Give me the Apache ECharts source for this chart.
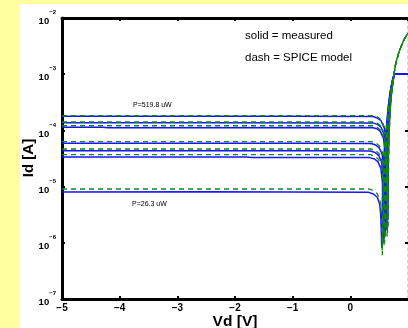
<!DOCTYPE html>
<html>
<head>
<meta charset="utf-8">
<script src="https://cdn.jsdelivr.net/npm/echarts@6/dist/echarts.min.js"></script>
<style>
  html, body { margin: 0; padding: 0; background: #ffffa0; }
  #paper { position: absolute; left: 20px; top: 4px; width: 388px; height: 324px; background: #fff; }
  #chart { position: absolute; left: 0; top: 0; width: 408px; height: 328px; }
</style>
</head>
<body>
<div id="paper"></div>
<div id="chart"></div>
<script>
// axis ranges / ticks
const vdTicks = [-5, -4, -3, -2, -1, 0, 1]
const idDecades = [1e-7, 1e-6, 1e-5, 1e-4, 1e-3, 1e-2]

// measured curves (solid blue), [Vd, |Id|]
const measuredTail = [[0.76, 1e-3], [1.0, 1e-3]]
const measured1 = [[-5, 1.78e-4], [-3, 1.79e-4], [-1, 1.78e-4], [0.39, 1.77e-4], [0.47, 1.66e-4], [0.53, 1.5e-4], [0.59, 1.1e-4], [0.625, 6e-5], [0.642, 2e-5], [0.652, 2.5e-6], [0.66, 3e-5], [0.675, 1.1e-4], [0.69, 2.4e-4], [0.71, 4.2e-4], [0.735, 6.8e-4]]
const measured2 = [[-5, 1.37e-4], [-2.5, 1.37e-4], [0.39, 1.36e-4], [0.47, 1.28e-4], [0.53, 1.15e-4], [0.585, 8.5e-5], [0.615, 4.5e-5], [0.632, 1.5e-5], [0.64, 2e-6], [0.648, 2.5e-5], [0.665, 1e-4], [0.685, 2.4e-4], [0.71, 4.6e-4], [0.735, 7e-4]]
const measured3 = [[-5, 1.14e-4], [-4.3, 1.14e-4], [-4.2, 1.12e-4], [0.38, 1.13e-4], [0.46, 1.07e-4], [0.52, 9.6e-5], [0.575, 7.2e-5], [0.605, 4e-5], [0.622, 1.3e-5], [0.632, 1.7e-6], [0.64, 2e-5], [0.66, 9e-5], [0.68, 2.3e-4], [0.705, 4.5e-4], [0.735, 7.2e-4]]
const measured4 = [[-5, 5.89e-5], [-1, 5.9e-5], [0.36, 5.85e-5], [0.44, 5.5e-5], [0.5, 4.9e-5], [0.55, 3.8e-5], [0.58, 2.2e-5], [0.595, 8e-6], [0.605, 1.4e-6], [0.613, 1.5e-5], [0.63, 6e-5], [0.655, 1.6e-4], [0.68, 3.2e-4], [0.71, 5.4e-4], [0.74, 8e-4]]
const measured5 = [[-5, 4.35e-5], [-0.5, 4.36e-5], [0.35, 4.3e-5], [0.43, 4.05e-5], [0.49, 3.6e-5], [0.54, 2.8e-5], [0.567, 1.6e-5], [0.58, 6e-6], [0.59, 1.2e-6], [0.598, 1.2e-5], [0.615, 4.5e-5], [0.64, 1.3e-4], [0.67, 3e-4], [0.7, 5.2e-4], [0.735, 8e-4]]
const measured6 = [[-5, 3.36e-5], [-1.8, 3.36e-5], [-1.7, 3.28e-5], [0.33, 3.28e-5], [0.42, 3.1e-5], [0.48, 2.75e-5], [0.53, 2.1e-5], [0.556, 1.2e-5], [0.568, 4.5e-6], [0.578, 1e-6], [0.586, 1e-5], [0.605, 4e-5], [0.63, 1.1e-4], [0.66, 2.7e-4], [0.695, 5e-4], [0.73, 7.8e-4]]
const measured7 = [[-5, 8.0e-6], [-2.5, 8.1e-6], [0.32, 7.9e-6], [0.4, 7.4e-6], [0.47, 6.4e-6], [0.51, 4.8e-6], [0.528, 3e-6], [0.538, 1.5e-6], [0.545, 8e-7], [0.552, 4e-6], [0.565, 1.5e-5], [0.585, 4e-5], [0.61, 8e-5], [0.64, 1.7e-4], [0.67, 3.3e-4], [0.7, 5.5e-4], [0.735, 8.2e-4]]

// SPICE model curves (dashed green)
const modelTail = [[0.76, 1.05e-3], [0.79, 1.6e-3], [0.85, 2.6e-3], [0.93, 4.1e-3], [1.0, 5.4e-3]]
const model1 = [[-5, 1.83e-4], [0.4, 1.83e-4], [0.48, 1.72e-4], [0.54, 1.52e-4], [0.595, 1.1e-4], [0.628, 5.5e-5], [0.645, 1.6e-5], [0.655, 1.8e-6], [0.663, 2.5e-5], [0.678, 1.1e-4], [0.695, 2.5e-4], [0.72, 5e-4]]
const model2 = [[-5, 1.41e-4], [0.4, 1.41e-4], [0.48, 1.32e-4], [0.54, 1.17e-4], [0.59, 8.5e-5], [0.62, 4.2e-5], [0.636, 1.3e-5], [0.645, 1.5e-6], [0.653, 2.2e-5], [0.67, 1e-4], [0.69, 2.4e-4], [0.72, 5e-4]]
const model3 = [[-5, 1.21e-4], [0.39, 1.21e-4], [0.47, 1.13e-4], [0.53, 1e-4], [0.58, 7.5e-5], [0.612, 3.8e-5], [0.628, 1.2e-5], [0.638, 1.3e-6], [0.646, 2e-5], [0.663, 9e-5], [0.685, 2.3e-4], [0.72, 5e-4]]
const model4 = [[-5, 6.3e-5], [0.37, 6.3e-5], [0.45, 5.9e-5], [0.51, 5.2e-5], [0.56, 4e-5], [0.588, 2.2e-5], [0.602, 7e-6], [0.61, 1.2e-6], [0.618, 1.4e-5], [0.635, 6e-5], [0.66, 1.7e-4], [0.69, 3.5e-4], [0.72, 5.2e-4]]
const model5 = [[-5, 4.67e-5], [0.36, 4.67e-5], [0.44, 4.35e-5], [0.5, 3.85e-5], [0.55, 2.9e-5], [0.574, 1.6e-5], [0.587, 5e-6], [0.595, 1e-6], [0.603, 1.1e-5], [0.62, 4.5e-5], [0.645, 1.35e-4], [0.675, 3.1e-4], [0.71, 5.2e-4]]
const model6 = [[-5, 3.7e-5], [0.35, 3.7e-5], [0.43, 3.45e-5], [0.49, 3.05e-5], [0.54, 2.3e-5], [0.565, 1.3e-5], [0.577, 4e-6], [0.585, 9e-7], [0.593, 9e-6], [0.61, 4e-5], [0.635, 1.15e-4], [0.665, 2.8e-4], [0.7, 5e-4]]
const model7 = [[-5, 9.06e-6], [0.33, 9.06e-6], [0.41, 8.4e-6], [0.47, 7.4e-6], [0.515, 5.6e-6], [0.535, 3.2e-6], [0.548, 1.4e-6], [0.555, 6e-7], [0.562, 4e-6], [0.575, 1.5e-5], [0.595, 4e-5], [0.62, 8.5e-5], [0.65, 1.8e-4], [0.68, 3.5e-4], [0.715, 5.6e-4]]

const measuredCurves = [measured1, measured2, measured3, measured4, measured5, measured6, measured7]
const modelCurves = [model1, model2, model3, model4, model5, model6, model7]

const annotations = ['solid = measured', 'dash = SPICE model']
const powerLabels = ['P=519.8 uW', 'P=26.3 uW']

const chart = echarts.init(document.getElementById('chart'), null, { renderer: 'canvas' })

const minus = s => String(s).replace('-', '\u2212')
const black = '#000'

const series = []
measuredCurves.forEach(c => {
  series.push({
    type: 'line', data: c.concat(measuredTail), symbol: 'none', xAxisIndex: 0, yAxisIndex: 0,
    lineStyle: { color: '#1515ff', width: 1.5 }, z: 3
  })
})
modelCurves.forEach(c => {
  series.push({
    type: 'line', data: c.concat(modelTail), symbol: 'none', xAxisIndex: 0, yAxisIndex: 0,
    lineStyle: { color: '#118811', width: 1.3, type: [5, 4] }, z: 4
  })
})

const option = {
  animation: false,
  backgroundColor: 'transparent',
  grid: { left: 62, top: 18, right: 0, bottom: 29, containLabel: false },
  xAxis: [
    {
      type: 'value', position: 'bottom', min: vdTicks[0], max: vdTicks[vdTicks.length - 1], interval: 1,
      axisLine: { onZero: false, lineStyle: { color: black, width: 3 } },
      axisTick: { inside: true, length: 3, lineStyle: { color: black, width: 2 } },
      axisLabel: {
        margin: 4, color: black, fontSize: 10, fontWeight: 'bold', fontFamily: 'Liberation Sans',
        showMinLabel: true, showMaxLabel: false, formatter: v => minus(v)
      },
      splitLine: { show: false }
    },
    {
      type: 'value', position: 'top', min: vdTicks[0], max: vdTicks[vdTicks.length - 1], interval: 1,
      axisLine: { onZero: false, lineStyle: { color: black, width: 3 } },
      axisTick: { inside: true, length: 3, lineStyle: { color: black, width: 2 } },
      axisLabel: { show: false }, splitLine: { show: false }
    }
  ],
  yAxis: [
    {
      type: 'log', logBase: 10, position: 'left', min: idDecades[0], max: idDecades[idDecades.length - 1], interval: 1,
      axisLine: { onZero: false, lineStyle: { color: black, width: 3 } },
      axisTick: { inside: true, length: 3, lineStyle: { color: black, width: 2 } },
      minorTick: { show: false },
      axisLabel: {
        margin: 6, showMinLabel: true, showMaxLabel: true,
        formatter: v => '{b|10}{s|' + minus(Math.round(Math.log10(v))) + '}',
        rich: {
          b: { fontSize: 9.5, fontWeight: 'bold', color: black, fontFamily: 'Liberation Sans', lineHeight: 17, verticalAlign: 'bottom' },
          s: { fontSize: 6, fontWeight: 'bold', color: black, fontFamily: 'Liberation Sans', lineHeight: 17, verticalAlign: 'top' }
        }
      },
      splitLine: { show: false }
    },
    {
      type: 'log', logBase: 10, position: 'right', min: idDecades[0], max: idDecades[idDecades.length - 1], interval: 1,
      axisLine: { onZero: false, lineStyle: { color: '#c8c8c8', width: 1.5, type: [3, 3] } },
      axisTick: { inside: true, length: 3, lineStyle: { color: black, width: 2 } },
      axisLabel: { show: false }, splitLine: { show: false }
    }
  ],
  graphic: [
    { type: 'text', x: 245, y: 36, style: { text: annotations[0], font: '11.5px "Liberation Sans"', fill: black, verticalAlign: 'middle' } },
    { type: 'text', x: 245, y: 58, style: { text: annotations[1], font: '11.5px "Liberation Sans"', fill: black, verticalAlign: 'middle' } },
    { type: 'text', x: 133, y: 105, style: { text: powerLabels[0], font: '7px "Liberation Sans"', fill: black, verticalAlign: 'middle' } },
    { type: 'text', x: 132, y: 204, style: { text: powerLabels[1], font: '7px "Liberation Sans"', fill: black, verticalAlign: 'middle' } },
    { type: 'text', x: 235, y: 322, style: { text: 'Vd [V]', font: 'bold 15.5px "Liberation Sans"', fill: black, align: 'center', verticalAlign: 'middle' } },
    { type: 'text', x: 29, y: 158, rotation: Math.PI / 2, style: { text: 'Id [A]', font: 'bold 15px "Liberation Sans"', fill: black, align: 'center', verticalAlign: 'middle' } }
  ],
  series: series
}

chart.setOption(option)
</script>
</body>
</html>
